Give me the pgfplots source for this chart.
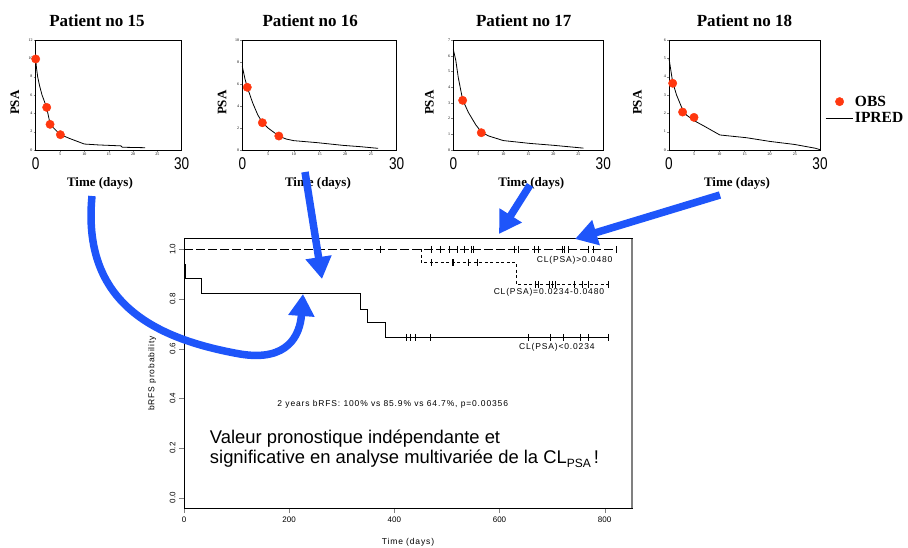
\documentclass[border=0pt]{standalone}
\usepackage{fontspec}
\setmainfont{Liberation Serif}
\newfontfamily\sansf{Liberation Sans}
\newfontfamily\sansls{Liberation Sans}[LetterSpace=10]
\usepackage{graphicx}
\usepackage{pgfplots}
\pgfplotsset{compat=1.18}
\usetikzlibrary{arrows.meta}
\definecolor{obsred}{RGB}{255,55,15}
\definecolor{arrowblue}{RGB}{30,85,250}

\pgfplotsset{
  panel/.style={
    scale only axis, height=110pt, anchor=south west,
    xmin=0, xmax=30, ymin=0,
    xtick={5,10,...,25},
    tick align=outside, tick pos=left, major tick length=2pt,
    ticklabel style={font=\fontsize{4}{4}\selectfont, inner sep=1pt},
    /pgf/number format/assume math mode=true,
    axis line style={line width=0.8pt},
    title style={font=\bfseries\fontsize{17}{17}\selectfont, anchor=center},
    label style={font=\bfseries\fontsize{13}{13}\selectfont, anchor=center},
    xlabel={Time (days)}, ylabel={PSA},
    extra x ticks={0,30},
    extra x tick labels={\scalebox{0.8}[1]{0},\scalebox{0.8}[1]{30}},
    extra x tick style={tick style={draw=none},
      xticklabel style={font=\sansf\fontsize{17}{17}\selectfont, yshift=-4pt}},
    clip=false,
  },
  obs/.style={only marks, mark=*, mark size=4.2pt, color=obsred},
  ipred/.style={black, line width=0.8pt},
  ipredleg/.style={legend image code/.code={\draw[##1] (0pt,0pt) -- (27pt,0pt);}},
  obsleg/.style={legend image code/.code={\draw[##1] plot coordinates {(14pt,0pt)};}},
  cens/.style={only marks, mark=|, mark size=3.5pt, black, mark options={line width=0.6pt}},
}

\begin{document}
\begin{tikzpicture}
\path[use as bounding box] (0,0) rectangle (908pt,547pt);

% ---- patient panels ----
\begin{axis}[panel, at={(35.7pt,397pt)}, width=146pt, ymax=12, ytick={0,2,...,12},
  title={Patient no 15}, title style={at={(axis description cs:0.42,1.12)}},
  xlabel style={at={(axis description cs:0.44,-0.30)}},
  ylabel style={at={(axis description cs:-0.142,0.43)}}]
\addplot[ipred] coordinates {(0,10)(0.15,9.0)(0.4,8.0)(0.8,7.0)(1.3,6.0)(2.0,5.0)(2.3,4.5)(2.9,3.0)(3.5,2.5)(5,1.7)(7,1.25)(10,0.65)(13,0.55)(17.5,0.45)(17.8,0.3)(22.5,0.25)};
\addplot[obs] coordinates {(0,9.93)(2.26,4.65)(2.95,2.8)(5.07,1.67)};
\end{axis}

\begin{axis}[panel, at={(242.3pt,397pt)}, width=154.4pt, ymax=10, ytick={0,2,...,10},
  title={Patient no 16}, title style={at={(axis description cs:0.44,1.12)}},
  xlabel style={at={(axis description cs:0.49,-0.30)}},
  ylabel style={at={(axis description cs:-0.13,0.43)}}]
\addplot[ipred] coordinates {(0,7.6)(0.5,6.5)(0.97,5.7)(2,4.3)(3,3.2)(3.9,2.5)(5,2.0)(7.1,1.27)(8.5,1.0)(10,0.85)(14.5,0.67)(19.6,0.42)(23,0.3)(26.4,0.15)};
\addplot[obs] coordinates {(0.97,5.7)(3.9,2.48)(7.1,1.27)};
\end{axis}

\begin{axis}[panel, at={(453.3pt,397pt)}, width=150pt, ymax=7, ytick={0,1,...,7},
  title={Patient no 17}, title style={at={(axis description cs:0.47,1.12)}},
  xlabel style={at={(axis description cs:0.52,-0.30)}},
  ylabel style={at={(axis description cs:-0.16,0.43)}}]
\addplot[ipred] coordinates {(0,6.4)(0.5,5.7)(1,4.6)(1.87,3.2)(3,2.4)(4.5,1.6)(5.6,1.15)(7,0.9)(10,0.6)(15.3,0.42)(20,0.3)(26,0.12)};
\addplot[obs] coordinates {(1.87,3.16)(5.6,1.1)};
\end{axis}

\begin{axis}[panel, at={(669pt,397pt)}, width=151pt, ymax=6, ytick={0,1,...,6},
  title={Patient no 18}, title style={at={(axis description cs:0.50,1.12)}},
  xlabel style={at={(axis description cs:0.45,-0.30)}},
  ylabel style={at={(axis description cs:-0.21,0.43)}},
  reverse legend, legend cell align=left,
  legend style={draw=none, fill=none, inner sep=0pt, row sep=1pt,
    at={(axis description cs:1.033,0.364)}, anchor=west,
    font=\bfseries\fontsize{15.5}{17}\selectfont}]
\addplot[ipred, ipredleg]
  coordinates {(0,5.0)(0.73,3.7)(1.5,3.0)(2.7,2.2)(3.5,1.9)(5.0,1.6)(7,1.3)(10.1,0.82)(15.4,0.67)(20,0.47)(25,0.3)(29,0.1)(30,0.02)};
\addlegendentry{IPRED}
\addplot[obs, obsleg]
  coordinates {(0.73,3.64)(2.7,2.07)(4.97,1.78)};
\addlegendentry{OBS}
\end{axis}

% ---- Kaplan-Meier chart ----
\begin{axis}[
  scale only axis, width=448pt, height=269pt, at={(184pt,39pt)}, anchor=south west,
  xmin=0, xmax=852, ymin=-0.0417, ymax=1.0417,
  xtick={0,200,400,600,800},
  ytick={0,0.2,0.4,0.6,0.8,1.0},
  yticklabels={0.0,0.2,0.4,0.6,0.8,1.0},
  tick align=outside, tick pos=left, major tick length=5pt,
  ticklabel style={font=\sansf\fontsize{8}{8}\selectfont},
  yticklabel style={rotate=90, anchor=south},
  /pgf/number format/assume math mode=true,
  xlabel={Time (days)}, ylabel={bRFS probability},
  label style={font=\sansls\fontsize{8.5}{8.5}\selectfont, anchor=center},
  xlabel style={at={(axis description cs:0.5,-0.126)}},
  ylabel style={at={(axis description cs:-0.071,0.5)}},
  axis line style={line width=1pt},
  clip=false,
]
% CL(PSA) > 0.0480
\addplot[black, line width=0.7pt, dash pattern=on 9pt off 3pt] coordinates {(0,1)(823,1)};
\addplot[cens] coordinates {(374,1)(471,1)(487,1)(504,1)(519,1)(534,1)(547,1)(550,1)(629,1)(635,1)(667,1)(673,1)(719,1)(724,1)(730,1)(768,1)(778,1)(823,1)};
% CL(PSA) 0.0234-0.0480
\addplot[black, line width=0.6pt, dash pattern=on 3pt off 2.5pt, const plot]
  coordinates {(451,1)(451,0.947)(632,0.859)(810,0.859)};
\addplot[cens] coordinates {(471,0.947)(510,0.947)(513,0.947)(540,0.947)(557,0.947)(669,0.859)(673,0.859)(694,0.859)(700,0.859)(707,0.859)(743,0.859)(757,0.859)(768,0.859)(806,0.859)};
% CL(PSA) < 0.0234
\addplot[black, line width=0.7pt, const plot]
  coordinates {(0,1)(1,0.94)(3,0.883)(33,0.823)(336,0.76)(349,0.704)(382,0.645)(808,0.645)};
\addplot[cens] coordinates {(423,0.645)(431,0.645)(439,0.645)(468,0.645)(654,0.645)(696,0.645)(721,0.645)(753,0.645)(768,0.645)(806,0.645)};

\draw[gray, line width=1.5pt] (rel axis cs:1,0) -- (rel axis cs:1,1);

\node[font=\sansls\fontsize{8.5}{8.5}\selectfont] at (axis cs:743,0.957) {CL(PSA)>0.0480};
\node[font=\sansls\fontsize{8.5}{8.5}\selectfont] at (axis cs:694,0.828) {CL(PSA)=0.0234-0.0480};
\node[font=\sansls\fontsize{8.5}{8.5}\selectfont] at (axis cs:709,0.606) {CL(PSA)<0.0234};
\node[font=\sansls\fontsize{8.5}{8.5}\selectfont] at (axis cs:397,0.376) {2 years bRFS: 100\% vs 85.9\% vs 64.7\%, p=0.00356};
\node[font=\sansf\fontsize{18.4}{18.4}\selectfont, anchor=base west, inner sep=0pt] at (axis cs:49,0.218) {Valeur pronostique indépendante et};
\node[font=\sansf\fontsize{18.4}{18.4}\selectfont, anchor=base west, inner sep=0pt] at (axis cs:49,0.137) {significative en analyse multivariée de la CL\raisebox{-3.5pt}{\fontsize{12}{12}\selectfont PSA}\,!};
\end{axis}

% ---- arrows ----
\begin{scope}[x=1pt, y=-1pt, shift={(0pt,547pt)},
  arr/.style={draw=arrowblue, line width=7.5pt, -{Triangle[length=22pt,width=25pt]}}]
\draw[arr] (92,196) .. controls (82,300) and (150,338) .. (240,354) .. controls (288,362) and (300,335) .. (303,294);
\draw[arr] (305,172) -- (322,279);
\draw[arr] (530,185) -- (499,234);
\draw[arr] (720,195) -- (575,239);
\end{scope}
\end{tikzpicture}
\end{document}
